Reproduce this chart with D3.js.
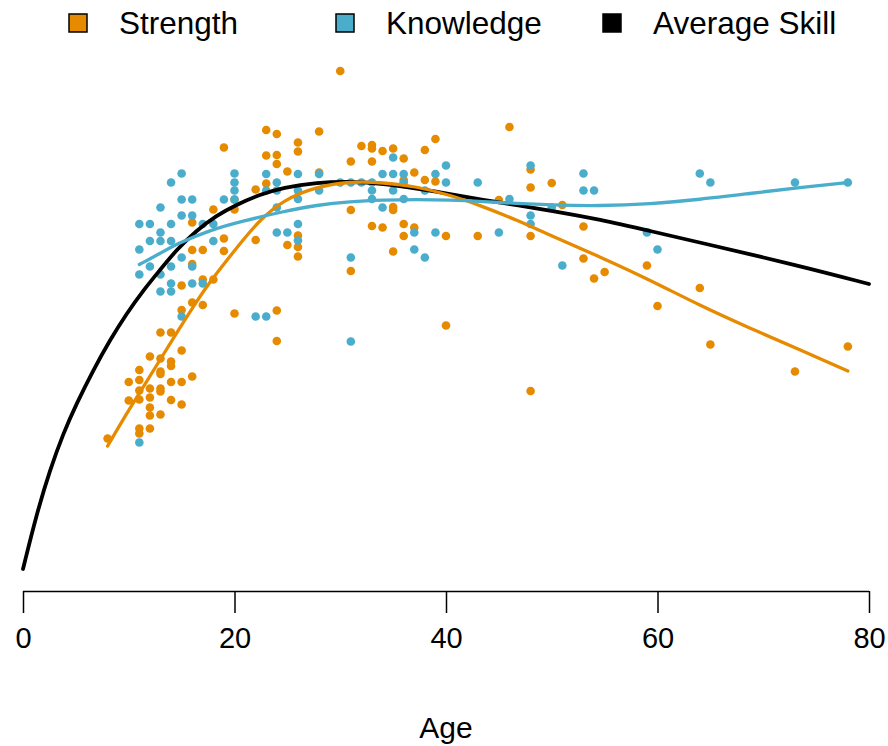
<!DOCTYPE html>
<html>
<head>
<meta charset="utf-8">
<script src="https://cdn.jsdelivr.net/npm/d3@7"></script>
<style>
  html, body { margin: 0; padding: 0; background: #fff; }
  svg { display: block; font-family: "Liberation Sans", Arial, sans-serif; }
</style>
</head>
<body>
<svg id="chart" width="888" height="746"></svg>
<script>
// ---------- DATA ----------
const seriesNames = ["Strength", "Knowledge", "Average Skill"];
const seriesColors = ["#E68A00", "#4AADCB", "#000000"];
const xTicks = [0, 20, 40, 60, 80];
const xLabel = "Age";

// Strength observations
const strengthAge = [
  8,
  10,10,
  11,11,11,11,11,11,
  12,12,12,12,12,12,
  13,13,13,13,13,13,13,
  14,14,14,14,14,
  15,15,15,15,15,
  16,16,16,16,16,
  17,17,17,
  18,18,
  19,19,19,
  20,20,20,
  22,22,
  23,23,23,
  24,24,24,24,24,
  25,25,
  26,26,26,26,26,
  28,28,
  30,
  31,31,31,
  32,
  33,33,33,33,
  34,34,
  35,35,35,35,
  36,36,36,36,
  37,37,
  38,38,
  39,39,
  40,40,
  43,
  45,
  46,
  48,48,48,48,
  50,
  51,
  53,53,
  54,
  55,
  59,
  60,
  64,
  65,
  73,
  78
];
const strengthVal = [
  26.3,
  37.6,33.9,
  40,38,35.9,34.1,28.3,27.3,
  42.7,36.3,34.5,32.5,30.9,28.3,
  47.5,42.3,39.7,39.2,36.3,35.7,31.1,
  47.5,41.7,40.8,37.6,34,
  56.9,52,43.9,37.6,33.1,
  69.5,64,61.2,53.5,38.7,
  64,58.1,53,
  72.1,58.1,
  84.5,66.3,63.8,
  74.1,72.1,51.3,
  76.1,66,
  88,82.9,77.3,
  87.2,83,81.2,51.9,45.8,
  79.7,65,
  85.5,83.7,66.9,64.6,62.7,
  87.7,79.5,
  99.8,
  81.7,72,59.8,
  84.8,
  85,84.3,81.7,68.8,
  83.8,68.5,
  84.3,72.6,72,63.7,
  82.3,78,69.2,66.8,
  79.5,68.5,
  84,78,
  86.2,77.7,
  66.8,48.9,
  66.8,
  74,
  88.6,
  80.1,76.5,66.8,35.8,
  77.4,
  73,
  68.7,62.3,
  58.3,
  59.6,
  60.9,
  52.8,
  56.4,
  45.1,
  39.7,
  44.7
];

// Knowledge observations
const knowledgeAge = [
  11,11,11,11,
  12,12,12,
  13,13,13,13,13,
  14,14,14,14,14,14,
  15,15,15,15,15,
  16,16,16,16,
  17,17,
  18,18,
  19,
  20,20,20,20,
  22,
  23,23,23,
  24,24,24,24,
  25,
  26,26,26,26,26,
  28,28,
  30,
  31,31,31,
  32,
  33,33,33,
  34,34,
  35,35,35,
  36,36,36,
  37,37,
  38,38,
  39,39,
  40,40,
  43,
  45,
  46,
  48,48,48,
  50,
  51,
  53,53,
  54,
  59,
  60,
  64,
  65,
  73,
  78
];
const knowledgeVal = [
  69.2,64.1,59.1,25.5,
  69.2,65.8,60.7,
  72.5,67.5,65.8,59.1,55.7,
  77.5,69.2,65.8,60.7,57.3,55.7,
  79.3,74.1,70.9,62.5,50.7,
  74.1,70.9,60.7,57.3,
  69.2,57.3,
  69.2,65.8,
  74.1,
  79.3,77.5,75.9,74.1,
  50.7,
  79.2,75.9,50.7,
  77.5,75.9,72.5,67.5,
  67.5,
  79.2,75.9,74.2,69.2,65.9,
  79.2,75.9,
  77.5,
  77.5,62.5,45.7,
  77.5,
  77.5,75.9,74.2,
  79.2,72.5,
  82.5,79.2,75.9,
  79.2,77.5,74.2,
  67.5,64.1,
  75.9,62.5,
  79.2,67.5,
  80.9,77.5,
  77.5,
  67.5,
  74.2,
  80.9,70.9,69.2,
  72.5,
  60.9,
  79.3,75.9,
  75.9,
  67.5,
  64.1,
  79.3,
  77.5,
  77.5,
  77.5
];

// Fitted curves
const strengthCurveAge = [8, 9.8, 11.4, 12.95, 14.5, 16.1, 17.7, 19.3, 20.8, 22.4, 24.6, 27.8, 30.9, 34.1, 37.2, 40.4, 43.5, 46.7, 49.8, 54.6, 59.3, 64, 68.7, 73.5, 78];
const strengthCurveVal = [24.8, 31.3, 36.7, 42, 47.3, 52.7, 57.7, 62, 66, 70, 74, 76.7, 77.7, 77.5, 76.7, 75, 72.7, 70, 67, 62.6, 58, 52.9, 48.4, 44, 39.8];

const knowledgeCurveAge = [11, 12.95, 14.5, 17.7, 20.8, 24.6, 27.8, 30.9, 34.1, 37.2, 40.4, 43.5, 46.7, 49.8, 54.6, 59.3, 64, 68.7, 73.5, 78];
const knowledgeCurveVal = [61.1, 63.3, 65.2, 68, 69.8, 71.7, 73, 73.7, 74, 74.1, 74, 73.7, 73.3, 73, 72.8, 73.2, 74.1, 75.3, 76.5, 77.5];

const averageCurveAge = [0, 1.3, 2.55, 3.8, 5.07, 6.65, 8.23, 9.8, 11.4, 12.95, 14.5, 16.4, 18.3, 20.2, 22.4, 24.6, 27.8, 30.9, 34.1, 37.2, 40.4, 43.5, 46.7, 49.8, 54.6, 59.3, 64, 73.5, 80];
const averageCurveVal = [0.2, 11.3, 20, 27.3, 33.3, 40, 46, 51.3, 56, 60, 64, 67.9, 70.9, 73.1, 75.1, 76.5, 77.5, 77.7, 77.3, 76.3, 75.2, 74, 73, 71.9, 70.1, 67.8, 65.5, 60.8, 57.2];

// ---------- CHART ----------
const svg = d3.select("#chart");
const x = d3.scaleLinear().domain([0, 80]).range([23, 869]);
const y = d3.scaleLinear().domain([0, 100]).range([570, 70]);

const strengthPts = strengthAge.map((a, i) => ({ a, v: strengthVal[i] }));
const knowledgePts = knowledgeAge.map((a, i) => ({ a, v: knowledgeVal[i] }));

svg.append("g").selectAll("circle").data(strengthPts).join("circle")
  .attr("cx", d => x(d.a)).attr("cy", d => y(d.v)).attr("r", 4.3)
  .attr("fill", seriesColors[0]);
svg.append("g").selectAll("circle").data(knowledgePts).join("circle")
  .attr("cx", d => x(d.a)).attr("cy", d => y(d.v)).attr("r", 4.3)
  .attr("fill", seriesColors[1]);

const line = d3.line().x(d => x(d[0])).y(d => y(d[1])).curve(d3.curveBasis);
const curves = [
  { ages: averageCurveAge, vals: averageCurveVal, color: seriesColors[2], w: 3.8 },
  { ages: strengthCurveAge, vals: strengthCurveVal, color: seriesColors[0], w: 3.3 },
  { ages: knowledgeCurveAge, vals: knowledgeCurveVal, color: seriesColors[1], w: 3.3 }
];
curves.forEach(c => {
  svg.append("path")
    .datum(c.ages.map((a, i) => [a, c.vals[i]]))
    .attr("d", line)
    .attr("fill", "none")
    .attr("stroke", c.color)
    .attr("stroke-width", c.w)
    .attr("stroke-linecap", "round")
    .attr("stroke-linejoin", "round");
});

// x axis
const axis = d3.axisBottom(x).tickValues(xTicks).tickSize(22).tickPadding(14).tickFormat(d3.format("d"));
const gx = svg.append("g").attr("transform", "translate(0,591)").call(axis);
gx.select(".domain").attr("d", `M${x(0)},0.5V0.5H${x(80)}V0.5`).attr("stroke", "#000").attr("stroke-width", 1.5);
gx.selectAll(".tick line").attr("stroke", "#000").attr("stroke-width", 1.5);
gx.selectAll(".tick text").attr("fill", "#000").style("font-size", "29px")
  .style("font-family", "'Liberation Sans', Arial, sans-serif");

svg.append("text").attr("x", x(40)).attr("y", 738).attr("text-anchor", "middle")
  .style("font-size", "30px").attr("fill", "#000").text(xLabel);

// legend
const legendX = [78, 345, 612];
const legend = svg.append("g");
seriesNames.forEach((name, i) => {
  const g = legend.append("g").attr("transform", `translate(${legendX[i]},23)`);
  g.append("rect").attr("x", -9).attr("y", -9).attr("width", 18).attr("height", 18)
    .attr("fill", seriesColors[i]).attr("stroke", "#000").attr("stroke-width", 1.5);
  g.append("text").attr("x", 41).attr("y", 11).style("font-size", "31.5px").attr("fill", "#000").text(name);
});
</script>
</body>
</html>
